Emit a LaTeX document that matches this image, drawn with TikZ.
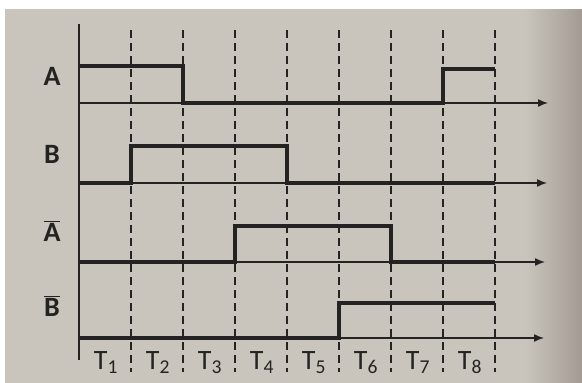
\documentclass[tikz,border=0pt]{standalone}
\usepackage{fontspec}
\setmainfont{Carlito}
\usetikzlibrary{arrows.meta}
\definecolor{paper}{HTML}{C9C5BC}
\definecolor{paperdark}{HTML}{A39B93}
\definecolor{ink}{HTML}{242322}
\tikzset{
  axisline/.style={draw=ink, line width=1.6pt},
  timeaxis/.style={draw=ink, line width=1.4pt, -{Latex[length=10pt,width=8pt]}},
  signal/.style={draw=ink, line width=3.2pt, line join=miter},
  slotline/.style={draw=ink, line width=1.4pt, dash pattern=on 8pt off 5pt},
  siglabel/.style={text=ink, font=\fontsize{28}{28}\selectfont\bfseries, inner sep=0pt},
  slotlabel/.style={text=ink, font=\fontsize{28}{28}\selectfont, inner sep=0pt}
}
\begin{document}
\begin{tikzpicture}[x=1pt,y=-1pt]
\useasboundingbox (0,0) rectangle (582,383);
\fill[white] (0,0) rectangle (582,383);
\fill[paper] (5,9) rectangle (582,383);
\shade[left color=paper, right color=paperdark] (525,9) rectangle (582,383);
% vertical axis
\coordinate (ytop) at (79,24);
\coordinate (ybot) at (79,360);
\draw[axisline] (ytop) -- (ybot);
% dashed slot lines
\foreach \i in {1,...,8}{
  \coordinate (d\i t) at ({79+52*\i},30);
  \coordinate (d\i b) at ({79+52*\i},372);
  \draw[slotline] (d\i t) -- (d\i b);
}
% time axes
\coordinate (a0) at (79,103); \coordinate (a1) at (548,103);
\coordinate (b0) at (79,183); \coordinate (b1) at (547,183);
\coordinate (c0) at (79,262); \coordinate (c1) at (545,262);
\coordinate (e0) at (79,338); \coordinate (e1) at (544,338);
\draw[timeaxis] (a0) -- (a1);
\draw[timeaxis] (b0) -- (b1);
\draw[timeaxis] (c0) -- (c1);
\draw[timeaxis] (e0) -- (e1);
% signals
\draw[signal] (79,66) -- (183,66) -- (183,103) -- (443,103) -- (443,69) -- (495,69);
\draw[signal] (79,183) -- (131,183) -- (131,146) -- (287,146) -- (287,183) -- (495,183);
\draw[signal] (79,262) -- (235,262) -- (235,226) -- (391,226) -- (391,262) -- (495,262);
\draw[signal] (79,338) -- (339,338) -- (339,303) -- (495,303);
% signal labels
\node[siglabel] (lA) at (52,76) {A};
\node[siglabel] (lB) at (52,154) {B};
\node[siglabel] (lAn) at (52,231) {$\overline{\mbox{A}}$};
\node[siglabel] (lBn) at (52,306) {$\overline{\mbox{B}}$};
% slot labels
\foreach \i in {1,...,8}{
  \node[slotlabel, anchor=base] (t\i) at ({54+52*\i},369) {T\textsubscript{\i}};
}
\end{tikzpicture}
\end{document}
